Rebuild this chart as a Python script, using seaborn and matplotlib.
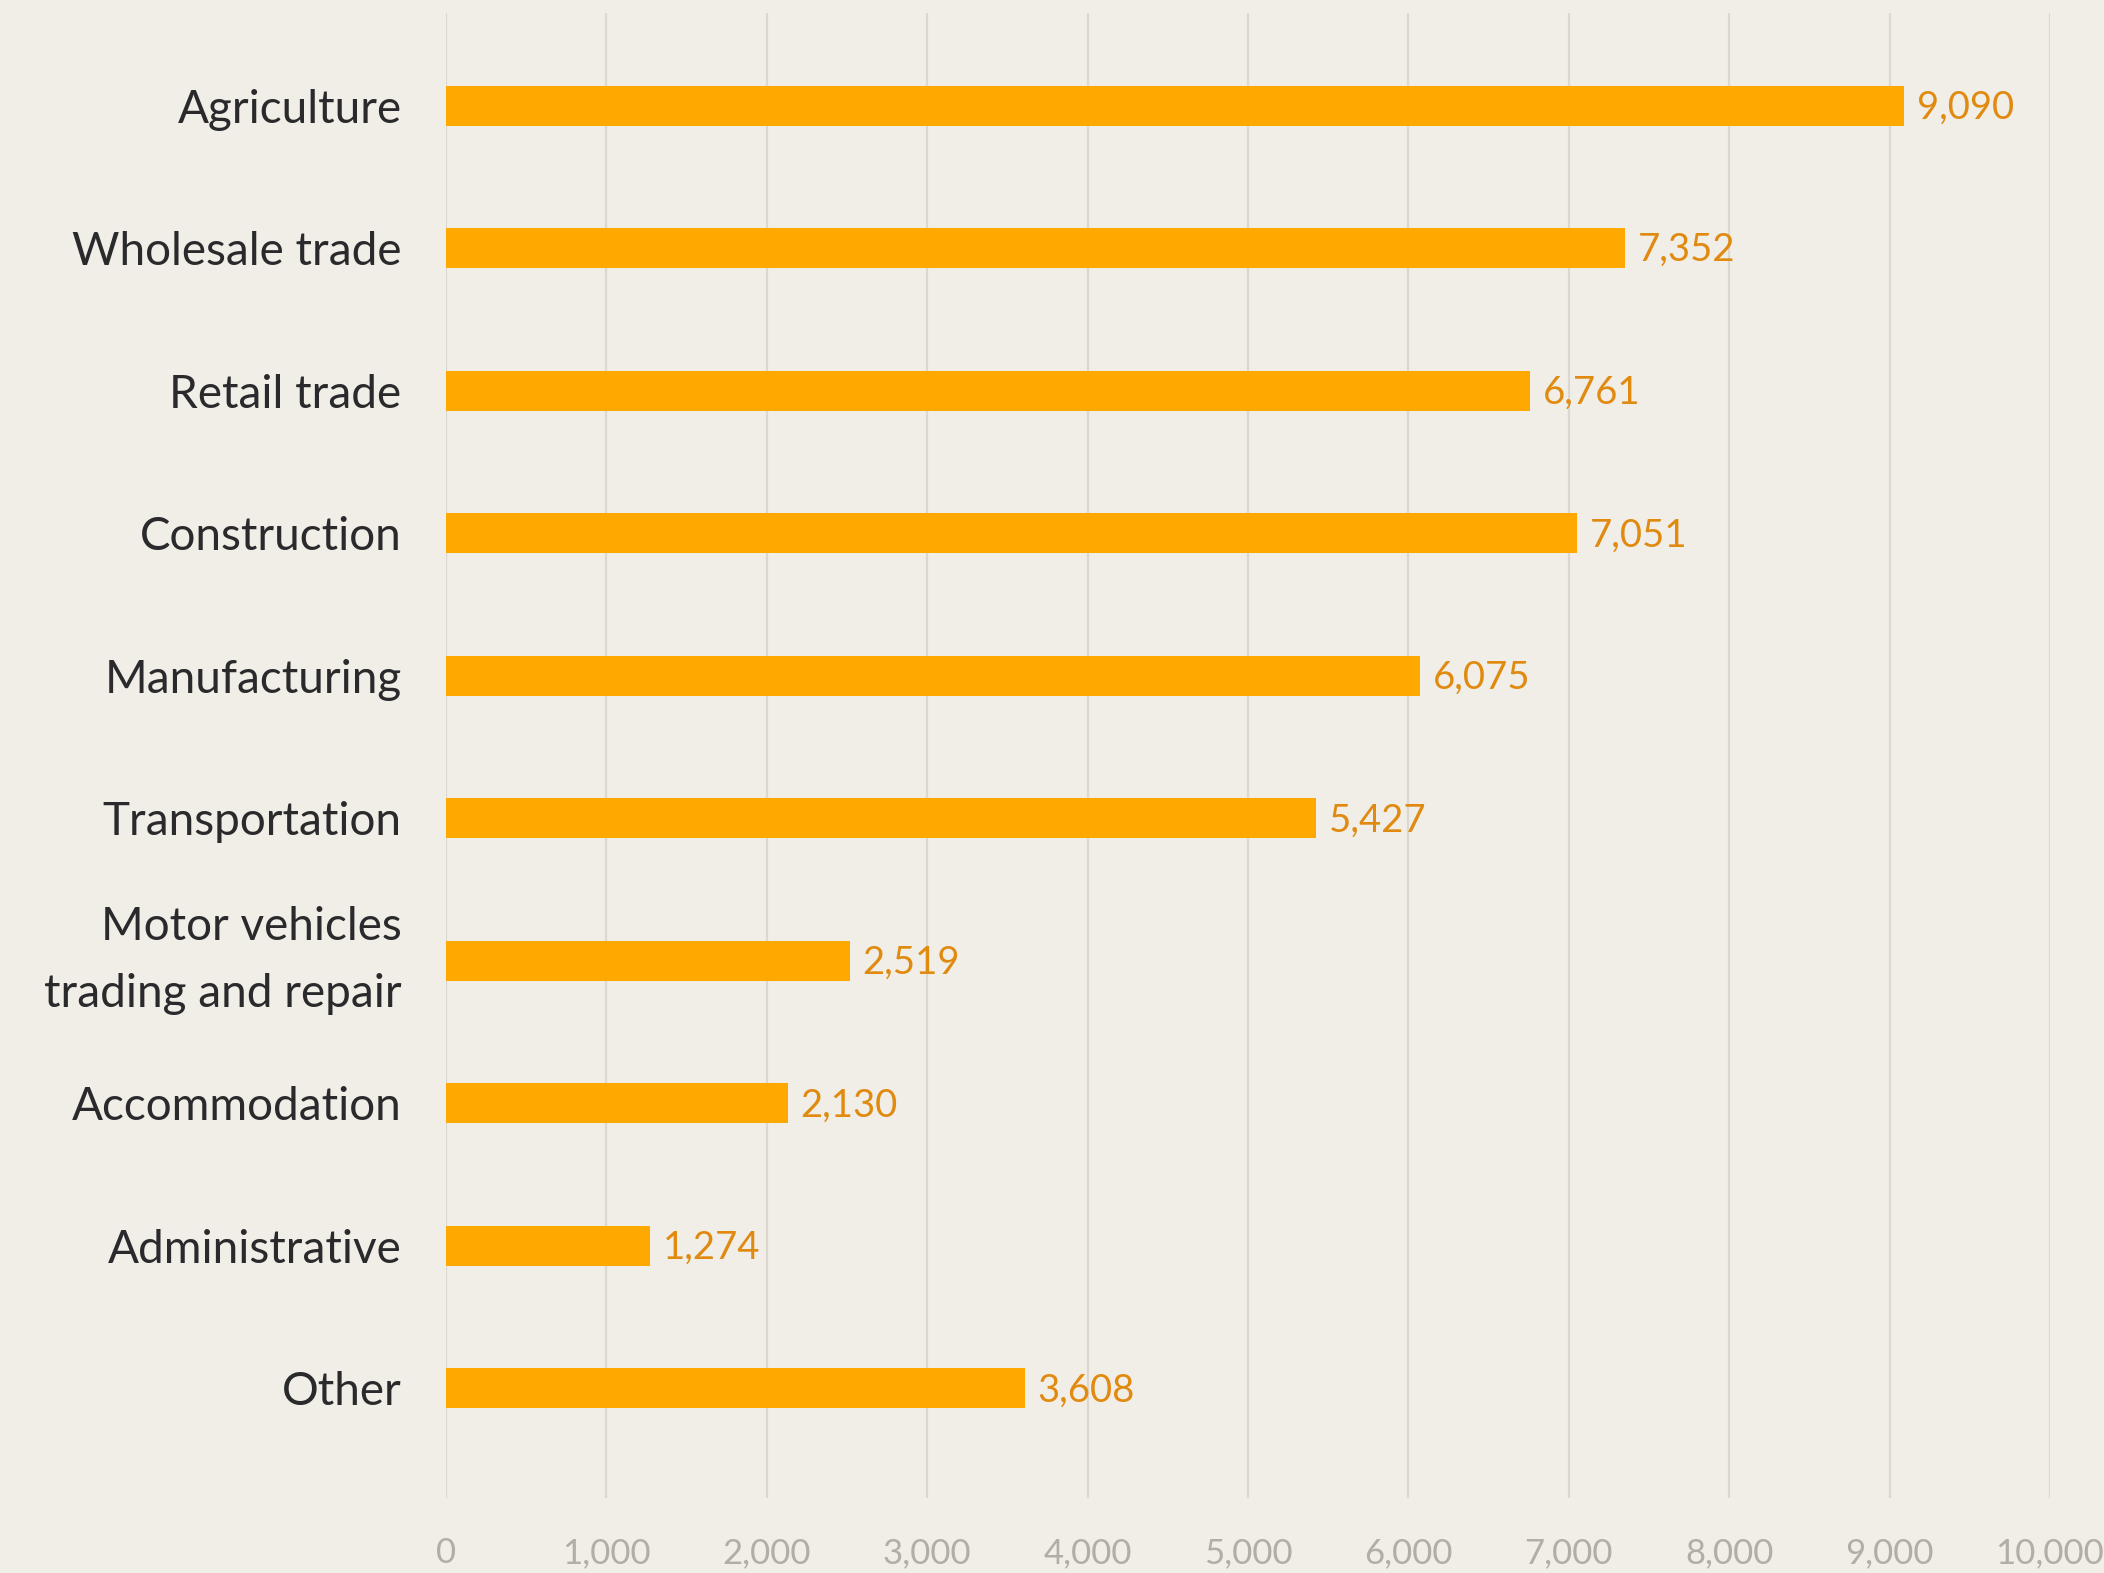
import matplotlib
matplotlib.use("Agg")
import matplotlib.pyplot as plt
import seaborn as sns
import pandas as pd

categories = ["Agriculture", "Wholesale trade", "Retail trade", "Construction",
              "Manufacturing", "Transportation", "Motor vehicles\ntrading and repair",
              "Accommodation", "Administrative", "Other"]
values = [9090, 7352, 6761, 7051, 6075, 5427, 2519, 2130, 1274, 3608]
x_ticks = [0, 1000, 2000, 3000, 4000, 5000, 6000, 7000, 8000, 9000, 10000]

BG = "#F1EDE7"
BAR = "#FFA800"
VAL = "#E08A10"
GRID = "#DCD7D0"
TXT = "#2A2A2C"
TICK = "#B2ADA7"

sns.set_theme(style="white")
plt.rcParams['font.family'] = ['Lato', 'DejaVu Sans']
plt.rcParams['font.weight'] = 'normal'

df = pd.DataFrame({"category": categories, "value": values})

fig = plt.figure(figsize=(21.04, 15.73), dpi=100, facecolor=BG)
ax = fig.add_axes([446/2104, 1 - 1498/1573, (2050-446)/2104, (1498-13)/1573])
ax.set_facecolor(BG)

sns.barplot(data=df, x="value", y="category", color=BAR, width=0.28,
            saturation=1, ax=ax, orient="h", linewidth=0, edgecolor="none")

ax.set_xlim(0, 10000)
ax.set_ylim(len(categories) - 1 + 0.77, -0.65)
ax.set_xticks(x_ticks)
ax.set_xticklabels([f"{t:,}" for t in x_ticks], fontsize=25, color=TICK)
ax.tick_params(axis="x", length=0, pad=28)
ax.tick_params(axis="y", length=0, pad=32)
for lbl in ax.get_yticklabels():
    lbl.set_fontsize(33)
    lbl.set_color(TXT)
    lbl.set_linespacing(1.75)
    if "\n" in lbl.get_text():
        lbl.set_va("center")
ax.set_xlabel("")
ax.set_ylabel("")
ax.xaxis.grid(True, color=GRID, linewidth=1.6)
ax.yaxis.grid(False)
ax.set_axisbelow(True)
for s in ax.spines.values():
    s.set_visible(False)

for i, v in enumerate(values):
    ax.annotate(f"{v:,}", xy=(v, i), xytext=(9, -1.5), textcoords="offset points",
                va="center", ha="left", fontsize=27.5, color=VAL)

fig.savefig("out.png", dpi=100, facecolor=BG)
